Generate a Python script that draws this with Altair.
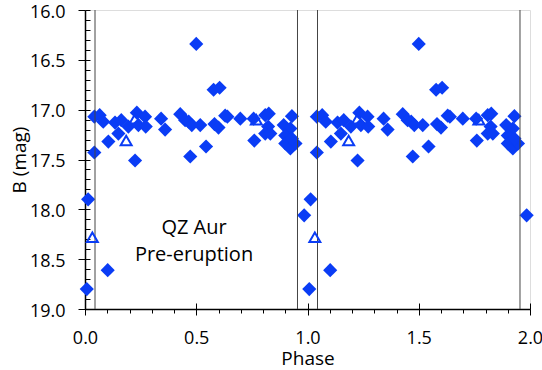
import altair as alt
import pandas as pd

# Phase-folded data (one cycle, plotted twice)
dia_phase = [0.008, 0.014, 0.102, 0.985, 0.042, 0.066, 0.082, 0.042, 0.105, 0.135,
             0.150, 0.163, 0.195, 0.233, 0.225, 0.240, 0.270, 0.273, 0.342, 0.360,
             0.428, 0.450, 0.466, 0.480, 0.473, 0.500, 0.518, 0.544, 0.578, 0.605,
             0.582, 0.600, 0.630, 0.640, 0.698, 0.758, 0.761, 0.810, 0.826, 0.823,
             0.810, 0.833, 0.893, 0.930, 0.923, 0.900, 0.900, 0.923, 0.946, 0.930]
dia_mag = [18.80, 17.90, 18.61, 18.06, 17.07, 17.055, 17.12, 17.43, 17.32, 17.13,
           17.24, 17.105, 17.17, 17.03, 17.51, 17.155, 17.07, 17.17, 17.09, 17.20,
           17.045, 17.105, 17.12, 17.155, 17.47, 16.34, 17.155, 17.37, 16.80, 16.78,
           17.145, 17.18, 17.06, 17.07, 17.09, 17.09, 17.31, 17.055, 17.04, 17.17,
           17.24, 17.24, 17.155, 17.065, 17.19, 17.26, 17.34, 17.39, 17.34, 17.29]
tri_phase = [0.033, 0.185, 0.225, 0.770]
tri_mag = [18.28, 17.31, 17.09, 17.10]

vline_x = [0.045, 0.955, 1.045, 1.955]
x_major = [0.0, 0.5, 1.0, 1.5, 2.0]
x_minor = [round(i * 0.1, 1) for i in range(21)]
y_major = [16.0, 16.5, 17.0, 17.5, 18.0, 18.5, 19.0]
y_minor = [round(16 + i * 0.1, 1) for i in range(31)]

label_text = ["QZ Aur", "Pre-eruption"]
label_x = [0.49, 0.49]
label_y = [18.19, 18.46]

BLUE = "#0a3cf5"

dia = pd.DataFrame({"phase": dia_phase + [p + 1 for p in dia_phase],
                    "mag": dia_mag + dia_mag})
tri = pd.DataFrame({"phase": tri_phase + [p + 1 for p in tri_phase],
                    "mag": tri_mag + tri_mag})
vl = pd.DataFrame({"x": vline_x})
lab = pd.DataFrame({"t": label_text, "x": label_x, "y": label_y})

xscale = alt.Scale(domain=[0, 2], nice=False, zero=False)
yscale = alt.Scale(domain=[16, 19], reverse=True, nice=False, zero=False)

FONT = "Open Sans"
W, H = 445, 299

xaxis = alt.Axis(orient="bottom", values=x_major, format=".1f", title="Phase", tickSize=6,
                 tickColor="black", domainColor="black", domainWidth=1.5,
                 labelFlush=False, labelOverlap=False,
                 labelFont=FONT, labelFontSize=18, labelColor="black", labelPadding=14,
                 titleFont=FONT, titleFontSize=19, titleFontWeight="normal",
                 titleColor="black", titlePadding=2, grid=False)
yaxis = alt.Axis(orient="left", values=y_major, format=".1f", title="B (mag)", tickSize=7,
                 tickColor="black", domainColor="black", domainWidth=1.5,
                 labelFlush=False, labelOverlap=False, labelOffset=2,
                 labelFont=FONT, labelFontSize=18, labelColor="black", labelPadding=13,
                 titleFont=FONT, titleFontSize=19, titleFontWeight="normal",
                 titleColor="black", titlePadding=0, grid=False)

points = alt.Chart(dia).mark_point(shape="diamond", filled=True, size=200,
                                   color=BLUE, opacity=1).encode(
    x=alt.X("phase:Q", scale=xscale, axis=xaxis),
    y=alt.Y("mag:Q", scale=yscale, axis=yaxis),
)

tris = alt.Chart(tri).mark_point(shape="triangle-up", filled=False, size=120,
                                 color=BLUE, strokeWidth=2, opacity=1).encode(
    x=alt.X("phase:Q", scale=xscale, axis=None),
    y=alt.Y("mag:Q", scale=yscale, axis=None),
)

# vertical rules; this layer also carries the short outward minor x ticks
rules = alt.Chart(vl).mark_rule(color="#444444", strokeWidth=1).encode(
    x=alt.X("x:Q", scale=xscale,
            axis=alt.Axis(orient="bottom", values=x_minor, labels=False,
                          domain=False, ticks=True, tickSize=4, tickColor="black",
                          title=None, grid=False)),
)

texts = alt.Chart(lab).mark_text(font=FONT, fontSize=20, color="black").encode(
    x=alt.X("x:Q", scale=xscale, axis=None),
    y=alt.Y("y:Q", scale=yscale, axis=None),
    text="t:N",
)

# inward tick parts: major x ticks up from the bottom, all y ticks right of the left edge
inner = alt.Chart(dia).mark_point(opacity=0).encode(
    x=alt.X("phase:Q", scale=xscale,
            axis=alt.Axis(orient="top", offset=-H, values=x_major, labels=False,
                          domain=False, ticks=True, tickSize=6, tickColor="black",
                          title=None, grid=False)),
    y=alt.Y("mag:Q", scale=yscale,
            axis=alt.Axis(orient="right", offset=-W, values=y_minor, labels=False,
                          domain=False, ticks=True, tickSize=5, tickColor="black",
                          title=None, grid=False)),
)

chart = alt.layer(points, rules, tris, texts, inner).resolve_axis(
    x="independent", y="independent"
).properties(
    width=W, height=H,
    padding={"left": 85, "top": 10, "right": 12, "bottom": 61},
    autosize="none",
).configure_view(stroke="#222222", strokeWidth=1.5).configure(background="white")

chart.save("out.html", embed_options={"renderer": "svg", "actions": False})
